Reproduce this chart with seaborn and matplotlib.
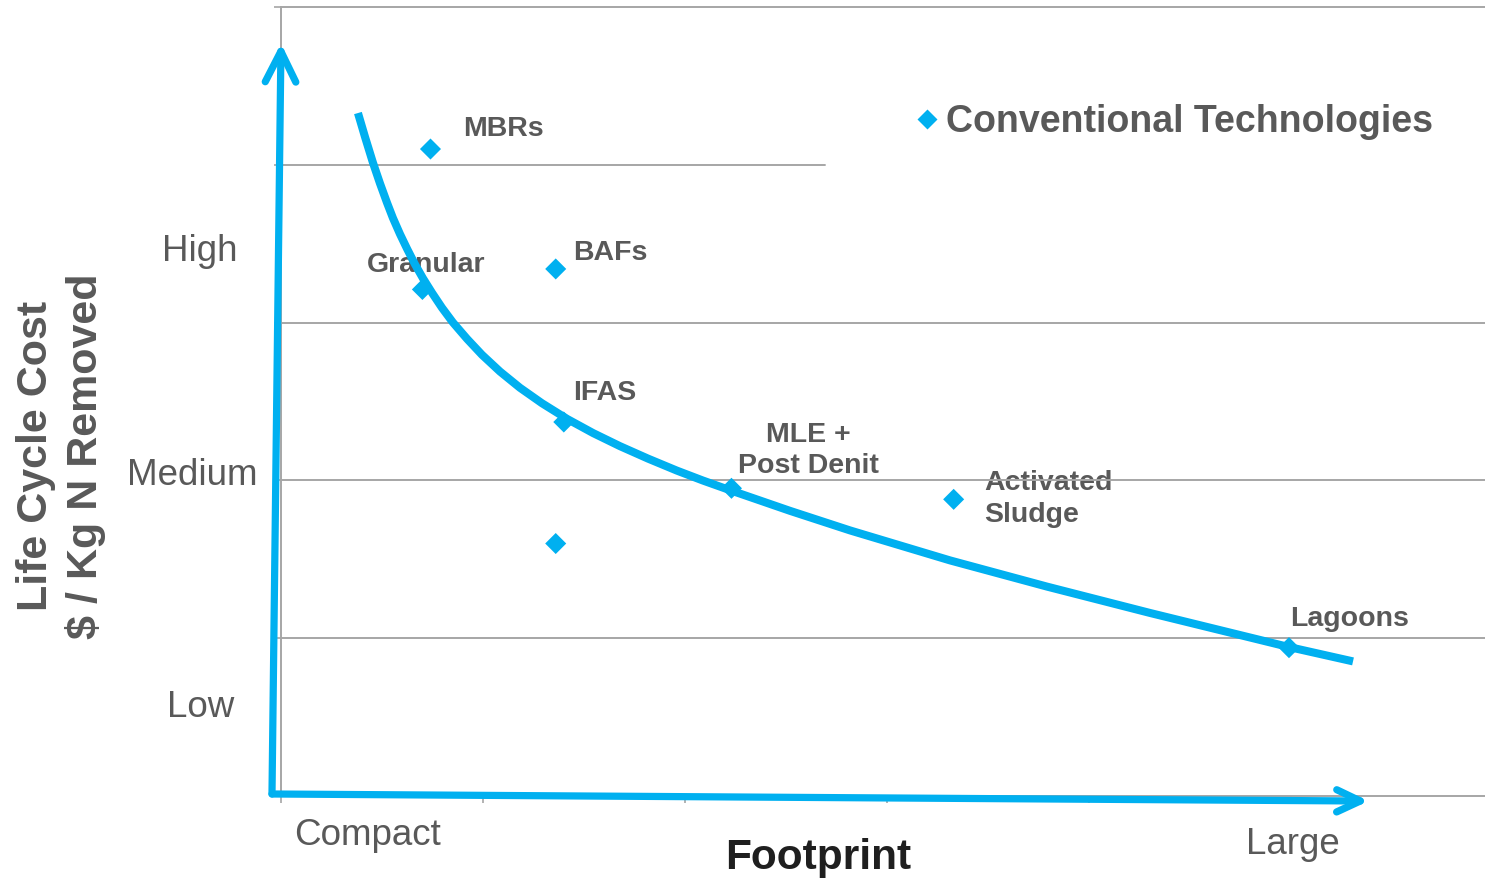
import matplotlib
matplotlib.use("Agg")
import matplotlib.pyplot as plt
import seaborn as sns
import pandas as pd

sns.set_theme(style="white")
plt.rcParams["font.family"] = ["Liberation Sans", "DejaVu Sans"]

# Technologies: footprint (x) vs life-cycle cost (y), in grid units
tech_names = ["MBRs", "BAFs", "Granular", "IFAS", "", "MLE +\nPost Denit",
              "Activated\nSludge", "Lagoons"]
tech_footprint = [0.74, 1.36, 0.70, 1.40, 1.36, 2.23, 3.33, 4.99]
tech_cost = [4.10, 3.34, 3.21, 2.37, 1.60, 1.95, 1.88, 0.94]

# Trend curve traced through the technologies
curve_footprint = [0.381, 0.416, 0.455, 0.490, 0.525, 0.554, 0.589, 0.624,
                   0.663, 0.703, 0.748, 0.797, 0.851, 0.921, 0.995, 1.084,
                   1.183, 1.292, 1.416, 1.545, 1.678, 1.817, 1.960, 2.089,
                   2.223, 2.520, 2.817, 3.312, 3.792, 4.302, 4.980, 5.307]
curve_cost = [4.328, 4.176, 4.014, 3.882, 3.759, 3.663, 3.561, 3.468,
              3.370, 3.280, 3.188, 3.094, 3.001, 2.897, 2.796, 2.690,
              2.587, 2.489, 2.390, 2.300, 2.217, 2.138, 2.062, 1.999,
              1.938, 1.807, 1.683, 1.493, 1.327, 1.160, 0.947, 0.853]

cost_levels = ["Low", "Medium", "High"]
cost_level_x = [-0.396, -0.441, -0.401]
cost_level_y = [0.565, 2.040, 3.455]

CYAN = "#00B0F0"
GRAY_TXT = "#595959"
GRID = "#A6A6A6"

fig = plt.figure(figsize=(14.85, 8.79), dpi=100)
ax = fig.add_axes([281 / 1485, 82 / 879, 1204 / 1485, 789 / 879])
ax.set_xlim(0, 1204 / 202)
ax.set_ylim(0, 5)

# grid lines (the upper one stops short of the legend)
for yv in [1, 2, 3]:
    ax.axhline(yv, color=GRID, lw=1.4, zorder=4)
ax.axhline(4, xmin=0, xmax=(825 - 281) / 1204, color=GRID, lw=1.4, zorder=4)

for side in ["left", "top", "bottom"]:
    ax.spines[side].set_color(GRID)
    ax.spines[side].set_linewidth(1.4)
ax.spines["right"].set_visible(False)
ax.set_xticks(range(6))
ax.set_yticks(range(6))
ax.set_xticklabels([])
ax.set_yticklabels([])
ax.tick_params(axis="both", length=5, width=1.2, color=GRID, direction="out",
               bottom=True, left=True)

curve_df = pd.DataFrame({"footprint": curve_footprint, "cost": curve_cost})
sns.lineplot(data=curve_df, x="footprint", y="cost", sort=False, ax=ax,
             color=CYAN, lw=5.8, zorder=5, solid_capstyle="butt",
             solid_joinstyle="round")

tech_df = pd.DataFrame({"name": tech_names, "footprint": tech_footprint,
                        "cost": tech_cost})
sns.scatterplot(data=tech_df, x="footprint", y="cost", ax=ax, marker="D",
                s=115, color=CYAN, edgecolor="none", linewidth=0, zorder=6,
                clip_on=False)
ax.set_xlabel("")
ax.set_ylabel("")

lab_kw = dict(fontsize=20.5, fontweight="bold", color=GRAY_TXT, zorder=3)
ax.text(0.901, 4.233, "MBRs", ha="left", va="center", **lab_kw)
ax.text(0.426, 3.371, "Granular", ha="left", va="center", **lab_kw)
ax.text(1.446, 3.447, "BAFs", ha="left", va="center", **lab_kw)
ax.text(1.446, 2.560, "IFAS", ha="left", va="center", **lab_kw)
ax.text(2.609, 2.195, "MLE +\nPost Denit", ha="center", va="center",
        multialignment="center", linespacing=1.28, **lab_kw)
ax.text(3.48, 1.890, "Activated\nSludge", ha="left", va="center",
        multialignment="left", linespacing=1.3, **lab_kw)
ax.text(4.995, 1.128, "Lagoons", ha="left", va="center", **lab_kw)

# legend entry
ax.plot([3.198], [4.29], marker="D", ms=10.5, color=CYAN, mec="none",
        ls="none", zorder=6)
ax.text(3.292, 4.275, "Conventional Technologies", ha="left", va="center",
        fontsize=27, fontweight="bold", color=GRAY_TXT)

# cost level labels
for lab, xv, yv in zip(cost_levels, cost_level_x, cost_level_y):
    ax.text(xv, yv, lab, ha="center", va="center", fontsize=26.5,
            color=GRAY_TXT, clip_on=False)

ax.text(0.426, -0.247, "Compact", ha="center", va="center", fontsize=26.5,
        color=GRAY_TXT, clip_on=False)
ax.text(5.01, -0.298, "Large", ha="center", va="center", fontsize=26.5,
        color=GRAY_TXT, clip_on=False)
ax.text(2.658, -0.387, "Footprint", ha="center", va="center", fontsize=30.5,
        fontweight="bold", color="#1F1F1F", clip_on=False)

fig.text(61 / 1485, 1 - 456 / 879, "Life Cycle Cost\n$ / Kg N Removed",
         rotation=90, ha="center", va="center", multialignment="center",
         fontsize=31, fontweight="bold", color=GRAY_TXT, linespacing=1.27)

# axis arrows
ax.annotate("", xy=(0.0, 4.77), xytext=(-0.0446, 0.0127),
            arrowprops=dict(arrowstyle="->,head_length=1.1,head_width=0.55",
                            mutation_scale=20, color=CYAN, lw=5.2,
                            capstyle="round", joinstyle="round",
                            shrinkA=0, shrinkB=0),
            annotation_clip=False, zorder=7)
ax.annotate("", xy=(5.385, -0.032), xytext=(-0.0446, 0.0127),
            arrowprops=dict(arrowstyle="->,head_length=0.85,head_width=0.4",
                            mutation_scale=20, color=CYAN, lw=5.2,
                            capstyle="round", joinstyle="round",
                            shrinkA=0, shrinkB=0),
            annotation_clip=False, zorder=7)

fig.savefig("out.png", dpi=100)
